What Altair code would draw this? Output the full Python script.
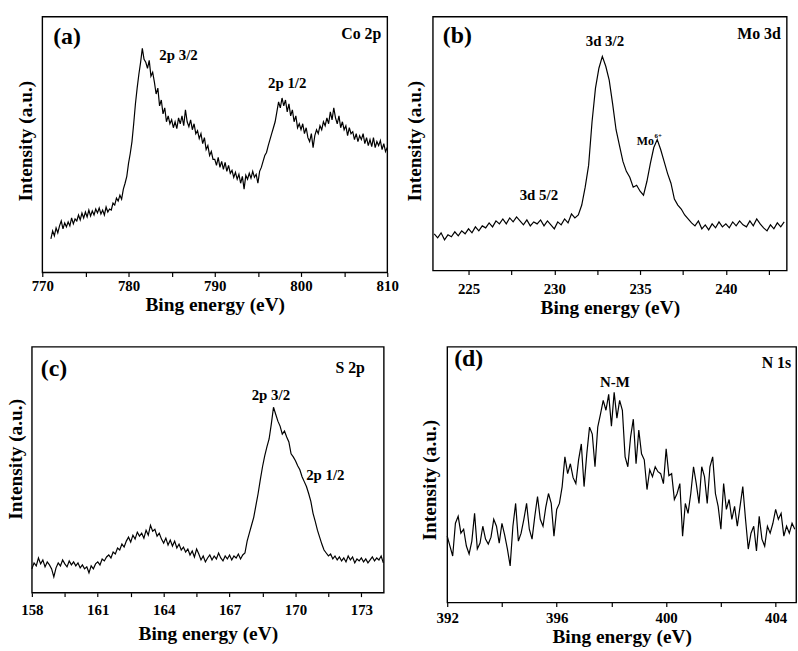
import altair as alt
import numpy as np
import pandas as pd

FONT = "Liberation Serif"

# ---------------- Co 2p spectrum (771.0 .. 810.0 eV, 0.2 eV step) ----------------
co_start, co_step = 771.0, 0.2
co_counts = [
    34, 42, 37, 45, 40, 47, 52, 44, 50, 46, 51, 47, 55, 49, 54, 52, 58, 53, 60, 55,
    61, 56, 63, 57, 62, 58, 64, 60, 65, 59, 63, 58, 66, 61, 64, 63, 70, 68, 75, 72,
    78, 74, 84, 90, 97, 110, 120, 132, 150, 170, 186, 200, 212, 226, 215,
    212, 206, 214, 198, 202, 192, 180, 186, 168, 174, 160, 166, 152, 158, 150,
    154, 146, 152, 145, 156, 150, 158, 148, 164, 152, 147, 154, 144, 150, 140,
    143, 135, 140, 130, 136, 124, 128, 118, 122, 114, 114, 108, 116, 106, 112,
    104, 111, 102, 108, 100, 103, 96, 101, 94, 99, 90, 97, 84, 98, 94,
    100, 95, 102, 96, 99, 90, 102, 106, 112, 118, 121, 128, 134, 140, 146,
    152, 162, 172, 166, 176, 168, 174, 162, 170, 158, 164, 152, 158, 146, 150,
    144, 150, 140, 146, 136, 132, 140, 126, 138, 144, 140, 148, 144, 152, 148,
    156, 150, 162, 154, 166, 156, 150, 158, 146, 152, 144, 148, 138, 146, 140,
    142, 134, 140, 132, 138, 134, 140, 130, 136, 128, 134, 127, 136, 126, 132,
    128, 133, 124, 130, 122, 126,
]

# ---------------- Mo 3d spectrum (223.0 .. 243.4 eV, 0.2 eV step) ----------------
mo_start, mo_step = 223.0, 0.2
mo_counts = [
    37, 33, 38, 31, 36, 34, 39, 35, 40, 37, 42, 38, 44, 40, 45, 43, 48, 44, 50, 47,
    52, 47, 53, 49, 54, 50, 46, 51, 45, 49, 47, 51, 45, 50, 46, 42, 49, 46, 52, 48,
    57, 53, 56, 66, 84, 106, 150, 184, 204, 216, 206, 192, 168, 142, 126,
    110, 100, 94, 84, 86, 80, 76, 90, 108, 124, 132, 122, 110, 98, 88,
    72, 66, 62, 56, 52, 48, 45, 50, 42, 46, 41, 47, 43, 49, 44,
    47, 43, 49, 45, 50, 46, 44, 50, 45, 52, 47, 43, 40, 46, 42, 48, 44, 49,
]

# ---------------- S 2p spectrum (158.0 .. 174.0 eV, 0.1 eV step) ----------------
s_start, s_step = 158.0, 0.1
s_counts = [
    24, 30, 27, 35, 29, 33, 26, 31, 28, 24,
    16, 25, 30, 27, 33, 29, 26, 32, 28, 31,
    27, 30, 25, 28, 24, 26, 20, 27, 24, 29,
    31, 28, 34, 32, 36, 38, 35, 41, 39, 45,
    43, 49, 46, 52, 56, 51, 58, 54, 61, 57,
    60, 55, 63, 58, 68, 62, 64, 57, 60, 54,
    50, 55, 48, 53, 47, 52, 45, 49, 43, 46,
    41, 44, 38, 42, 36, 44, 39, 33, 37, 31,
    35, 38, 33, 37, 34, 40, 35, 32, 37, 34,
    38, 33, 37, 35, 39, 34, 38, 40, 52, 60,
    68, 76, 88, 100, 114, 127, 138, 147, 155, 170,
    187, 180, 173, 168, 160, 163, 157, 152, 140, 137,
    133, 128, 124, 117, 112, 107, 100, 92, 80, 72,
    63, 56, 49, 43, 40, 37, 39, 34, 37, 33,
    36, 32, 35, 31, 37, 33, 36, 30, 34, 32,
    35, 31, 34, 30, 33, 36, 32, 35, 33, 37,
    30,
]

# ---------------- N 1s spectrum (392.0 .. 404.7 eV, 0.1 eV step) ----------------
n_start, n_step = 392.0, 0.1
n_counts = [
    67, 57, 47, 80, 87, 70, 74, 57, 49, 62,
    90, 54, 60, 77, 64, 59, 66, 84, 77, 60,
    80, 68, 54, 37, 77, 100, 62, 70, 84, 100,
    74, 64, 87, 107, 84, 77, 96, 110, 100, 67,
    94, 100, 117, 147, 130, 140, 126, 120, 144, 160,
    117, 150, 177, 170, 137, 177, 190, 204, 194, 210,
    178, 212, 186, 204, 194, 147, 137, 167, 185, 140,
    174, 150, 144, 114, 134, 127, 137, 132, 130, 120,
    155, 128, 130, 104, 110, 120, 67, 100, 90, 110,
    137, 120, 100, 137, 127, 100, 137, 147, 110, 97,
    74, 120, 94, 104, 84, 97, 77, 97, 117, 84,
    54, 70, 77, 52, 87, 64, 57, 77, 70, 80,
    94, 84, 90, 67, 77, 70, 80, 74,
]

# Peak annotations: (text, energy, intensity, font size, align)
co_notes = [("2p 3/2", 785.8, 219, 15, "center"), ("2p 1/2", 798.4, 191, 15, "center")]
mo_notes = [("3d 3/2", 232.95, 231, 15, "center"), ("Mo", 235.81, 131, 12, "right"),
            ("6+", 235.84, 136, 7, "left"), ("3d 5/2", 229.1, 76, 15, "center")]
s_notes = [("2p 3/2", 168.88, 199, 15, "center"), ("2p 1/2", 171.36, 119, 15, "center")]
n_notes = [("N-M", 398.13, 222, 15, "center")]

# Tick positions (labelled majors plus unlabelled minors)
co_ticks = [770, 775, 780, 785, 790, 795, 800, 805, 810]
mo_ticks = [225, 227.5, 230, 232.5, 235, 237.5, 240, 242.5]
s_ticks = [158, 159.5, 161, 162.5, 164, 165.5, 167, 168.5, 170, 171.5, 173]
n_ticks = [392, 394, 396, 398, 400, 402, 404]


def energy_grid(start, step, n):
    return np.round(start + step * np.arange(n), 2)


def panel(energy, counts, xdom, width, height, ticks, label_test,
          letter, letter_xy, element, element_xy, notes,
          label_pad, title_pad, ytitle_pad, ytitle_y):
    df = pd.DataFrame({"E": energy, "I": counts})
    xs = alt.Scale(domain=xdom, nice=False, zero=False)
    ys = alt.Scale(domain=[0, height], nice=False, zero=False)
    x_axis = alt.Axis(
        values=ticks,
        labelExpr=f"{label_test} ? datum.label : ''",
        title="Bing energy (eV)",
        labelPadding=label_pad,
        titlePadding=title_pad,
    )
    y_axis = alt.Axis(
        title="Intensity (a.u.)",
        labels=False, ticks=False, domain=False,
        titlePadding=ytitle_pad, titleY=ytitle_y,
    )

    line = alt.Chart(df).mark_line(color="black", strokeWidth=1.2).encode(
        x=alt.X("E:Q", scale=xs, axis=x_axis),
        y=alt.Y("I:Q", scale=ys, axis=y_axis),
    )
    layers = [line]

    for text, e, i, size, align in notes:
        ndf = pd.DataFrame({"t": [text], "E": [e], "I": [i]})
        layers.append(alt.Chart(ndf).mark_text(
            font=FONT, fontWeight="bold", fontSize=size, color="black",
            align=align, baseline="middle",
        ).encode(
            x=alt.X("E:Q", scale=xs, axis=x_axis),
            y=alt.Y("I:Q", scale=ys, axis=y_axis),
            text="t:N",
        ))

    layers.append(alt.Chart(pd.DataFrame({"t": [letter]})).mark_text(
        font=FONT, fontWeight="bold", fontSize=24, color="black",
        align="left", baseline="middle",
    ).encode(x=alt.value(letter_xy[0]), y=alt.value(letter_xy[1]), text="t:N"))

    layers.append(alt.Chart(pd.DataFrame({"t": [element]})).mark_text(
        font=FONT, fontWeight="bold", fontSize=16, color="black",
        align="right", baseline="middle",
    ).encode(x=alt.value(element_xy[0]), y=alt.value(element_xy[1]), text="t:N"))

    return alt.layer(*layers).properties(width=width, height=height)


pa = panel(energy_grid(co_start, co_step, len(co_counts)), co_counts,
           [770, 810], 348, 258, co_ticks, "datum.value % 10 == 0",
           "(a)", (11, 21), "Co 2p", (342, 17), co_notes,
           2, 2, 7, 125)
pb = panel(energy_grid(mo_start, mo_step, len(mo_counts)), mo_counts,
           [222.92, 243.55], 357, 256, mo_ticks, "datum.value % 5 == 0",
           "(b)", (10, 20), "Mo 3d", (351, 17), mo_notes,
           7, 2, 8, 125)
pc = panel(energy_grid(s_start, s_step, len(s_counts)), s_counts,
           [158, 174.02], 355, 248, s_ticks, "(datum.value - 158) % 3 == 0",
           "(c)", (9, 22), "S 2p", (336, 21), s_notes,
           6, 7, 6, 113)
pd_ = panel(energy_grid(n_start, n_step, len(n_counts)), n_counts,
            [392, 404.75], 352, 258, n_ticks, "datum.value % 4 == 0",
            "(d)", (7, 12), "N 1s", (347, 16), n_notes,
            4, 2, 8, 134)

row1 = alt.hconcat(pa, pb, spacing=5)
row2 = alt.hconcat(pc, pd_, spacing=32)

chart = alt.vconcat(row1, row2, spacing=28, center=True).properties(
    padding={"left": 5, "top": 13, "right": 0, "bottom": 0},
    background="white",
).configure_view(
    stroke="black", strokeWidth=1.4,
).configure_axis(
    labelFont=FONT, labelFontSize=15, labelFontWeight="bold", labelColor="black",
    titleFont=FONT, titleFontSize=19.5, titleFontWeight="bold", titleColor="black",
    tickColor="black", tickWidth=1.2, tickSize=4, grid=False, domain=False,
    labelFlush=False, labelOverlap=False,
)

chart.save("out.html", embed_options={"renderer": "svg", "actions": False})
